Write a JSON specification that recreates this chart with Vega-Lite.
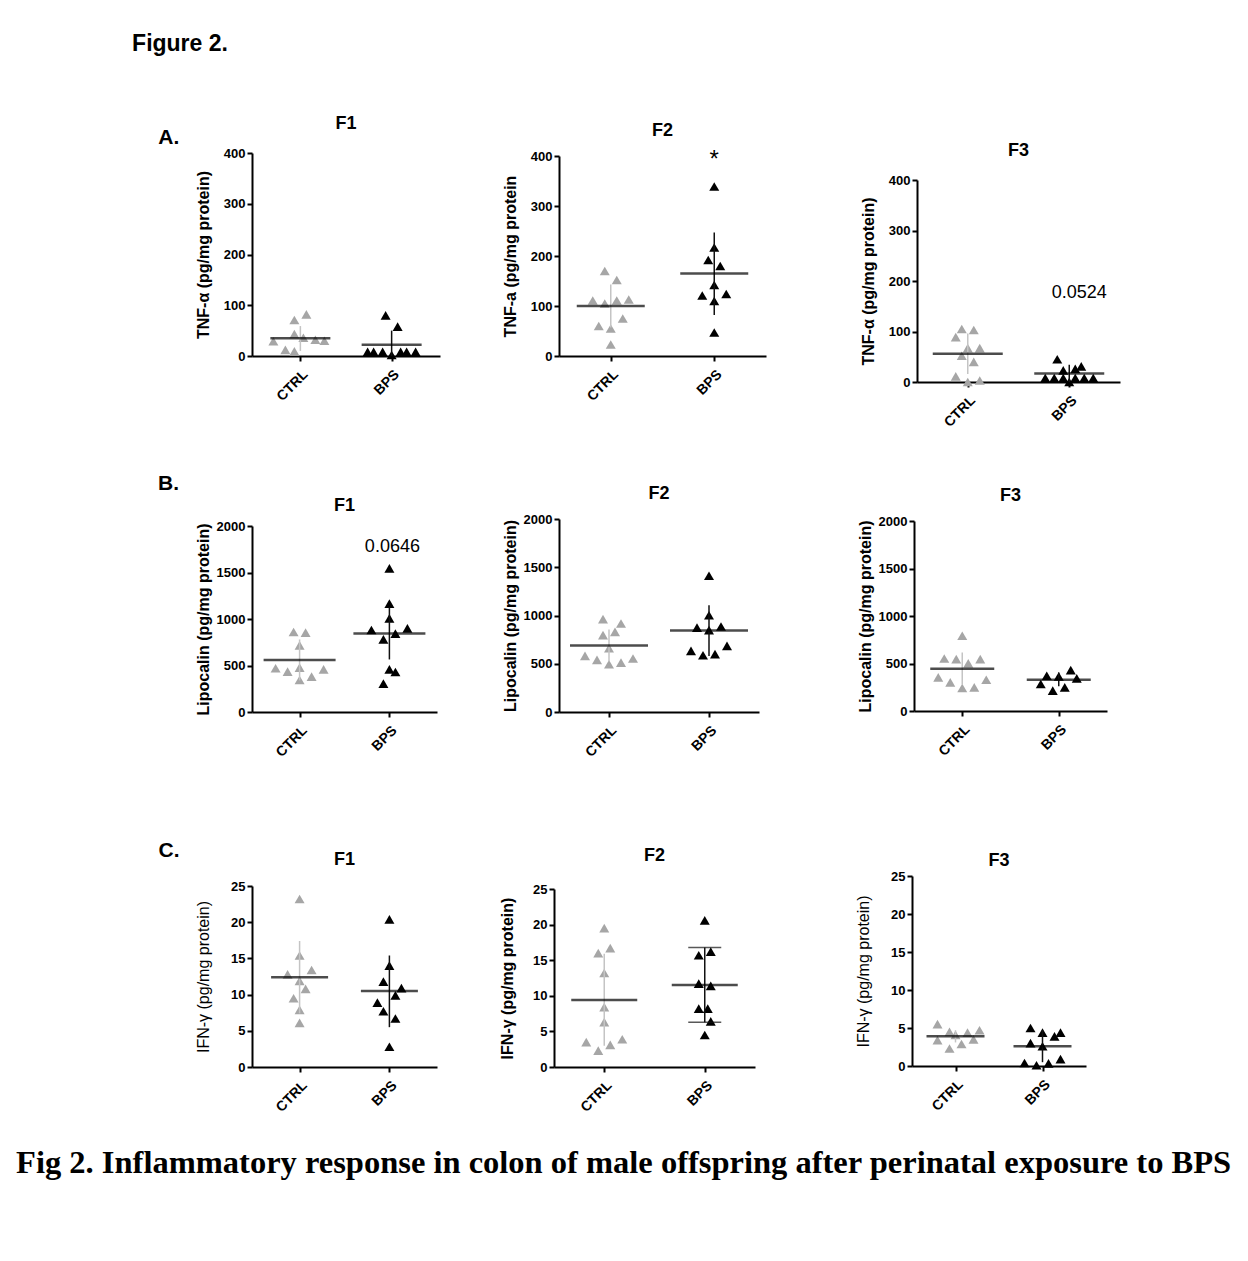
{
"$schema": "https://vega.github.io/schema/vega-lite/v6.json",
"background": "white",
"padding": {"left": 16, "top": 33, "right": 5, "bottom": 5},
"config": {
 "font": "Liberation Sans",
 "view": {"stroke": null},
 "axis": {"grid": false, "domainColor": "#000", "domainWidth": 2, "tickColor": "#000", "tickWidth": 2, "tickSize": 5, "labelColor": "#000", "labelFont": "Liberation Sans", "labelFontWeight": "bold", "labelFontSize": 13, "labelPadding": 2, "titleColor": "#000", "titleFont": "Liberation Sans", "titleFontWeight": "bold", "titleFontSize": 16},
 "axisY": {"format": "d"},
 "axisX": {"labelAngle": -45, "labelFontSize": 14, "labelPadding": 6},
 "title": {"font": "Liberation Sans", "fontSize": 18, "fontWeight": "bold", "color": "#000", "anchor": "middle", "offset": 20}
},
"datasets": {
 "pts": [
  {"p":"A1","g":"CTRL","v":82,"j":2},{"p":"A1","g":"CTRL","v":71,"j":-2},{"p":"A1","g":"CTRL","v":43,"j":-2},{"p":"A1","g":"CTRL","v":36,"j":1},{"p":"A1","g":"CTRL","v":32,"j":5},{"p":"A1","g":"CTRL","v":29,"j":-9},{"p":"A1","g":"CTRL","v":30,"j":8},{"p":"A1","g":"CTRL","v":12,"j":-5},{"p":"A1","g":"CTRL","v":9,"j":-2},
  {"p":"A1","g":"BPS","v":80,"j":-2},{"p":"A1","g":"BPS","v":58,"j":2},{"p":"A1","g":"BPS","v":8,"j":-8},{"p":"A1","g":"BPS","v":8,"j":-6},{"p":"A1","g":"BPS","v":8,"j":-3},{"p":"A1","g":"BPS","v":2,"j":0},{"p":"A1","g":"BPS","v":8,"j":3},{"p":"A1","g":"BPS","v":8,"j":5},{"p":"A1","g":"BPS","v":8,"j":8},
  {"p":"A2","g":"CTRL","v":170,"j":-2},{"p":"A2","g":"CTRL","v":152,"j":2},{"p":"A2","g":"CTRL","v":111,"j":-6},{"p":"A2","g":"CTRL","v":105,"j":-2},{"p":"A2","g":"CTRL","v":111,"j":2},{"p":"A2","g":"CTRL","v":113,"j":6},{"p":"A2","g":"CTRL","v":75,"j":4},{"p":"A2","g":"CTRL","v":60,"j":-4},{"p":"A2","g":"CTRL","v":55,"j":0},{"p":"A2","g":"CTRL","v":23,"j":0},
  {"p":"A2","g":"BPS","v":339,"j":0},{"p":"A2","g":"BPS","v":217,"j":0},{"p":"A2","g":"BPS","v":192,"j":-2},{"p":"A2","g":"BPS","v":180,"j":2},{"p":"A2","g":"BPS","v":142,"j":0},{"p":"A2","g":"BPS","v":121,"j":-4},{"p":"A2","g":"BPS","v":124,"j":4},{"p":"A2","g":"BPS","v":110,"j":0},{"p":"A2","g":"BPS","v":47,"j":0},
  {"p":"A3","g":"CTRL","v":105,"j":-2},{"p":"A3","g":"CTRL","v":103,"j":2},{"p":"A3","g":"CTRL","v":89,"j":-4},{"p":"A3","g":"CTRL","v":67,"j":0},{"p":"A3","g":"CTRL","v":67,"j":4},{"p":"A3","g":"CTRL","v":52,"j":-2},{"p":"A3","g":"CTRL","v":40,"j":2},{"p":"A3","g":"CTRL","v":11,"j":-4},{"p":"A3","g":"CTRL","v":3,"j":4},{"p":"A3","g":"CTRL","v":0,"j":0},
  {"p":"A3","g":"BPS","v":45,"j":-4},{"p":"A3","g":"BPS","v":23,"j":-2},{"p":"A3","g":"BPS","v":26,"j":2},{"p":"A3","g":"BPS","v":31,"j":4},{"p":"A3","g":"BPS","v":8,"j":-8},{"p":"A3","g":"BPS","v":8,"j":-5},{"p":"A3","g":"BPS","v":8,"j":-2},{"p":"A3","g":"BPS","v":8,"j":2},{"p":"A3","g":"BPS","v":8,"j":5},{"p":"A3","g":"BPS","v":8,"j":8},{"p":"A3","g":"BPS","v":0,"j":0},
  {"p":"B1","g":"CTRL","v":860,"j":-2},{"p":"B1","g":"CTRL","v":853,"j":2},{"p":"B1","g":"CTRL","v":717,"j":0},{"p":"B1","g":"CTRL","v":470,"j":-8},{"p":"B1","g":"CTRL","v":434,"j":-4},{"p":"B1","g":"CTRL","v":477,"j":0},{"p":"B1","g":"CTRL","v":459,"j":8},{"p":"B1","g":"CTRL","v":344,"j":0},{"p":"B1","g":"CTRL","v":380,"j":4},
  {"p":"B1","g":"BPS","v":1545,"j":0},{"p":"B1","g":"BPS","v":1165,"j":0},{"p":"B1","g":"BPS","v":1007,"j":0},{"p":"B1","g":"BPS","v":882,"j":-6},{"p":"B1","g":"BPS","v":900,"j":6},{"p":"B1","g":"BPS","v":842,"j":2},{"p":"B1","g":"BPS","v":781,"j":-2},{"p":"B1","g":"BPS","v":459,"j":0},{"p":"B1","g":"BPS","v":430,"j":2},{"p":"B1","g":"BPS","v":305,"j":-2},
  {"p":"B2","g":"CTRL","v":962,"j":-2},{"p":"B2","g":"CTRL","v":917,"j":4},{"p":"B2","g":"CTRL","v":796,"j":-2},{"p":"B2","g":"CTRL","v":830,"j":2},{"p":"B2","g":"CTRL","v":661,"j":0},{"p":"B2","g":"CTRL","v":581,"j":-8},{"p":"B2","g":"CTRL","v":540,"j":-4},{"p":"B2","g":"CTRL","v":554,"j":8},{"p":"B2","g":"CTRL","v":495,"j":0},{"p":"B2","g":"CTRL","v":512,"j":4},
  {"p":"B2","g":"BPS","v":1412,"j":0},{"p":"B2","g":"BPS","v":1003,"j":0},{"p":"B2","g":"BPS","v":875,"j":-4},{"p":"B2","g":"BPS","v":886,"j":4},{"p":"B2","g":"BPS","v":848,"j":0},{"p":"B2","g":"BPS","v":685,"j":6},{"p":"B2","g":"BPS","v":633,"j":-6},{"p":"B2","g":"BPS","v":588,"j":-2},{"p":"B2","g":"BPS","v":599,"j":2},
  {"p":"B3","g":"CTRL","v":792,"j":0},{"p":"B3","g":"CTRL","v":553,"j":-6},{"p":"B3","g":"CTRL","v":546,"j":-2},{"p":"B3","g":"CTRL","v":501,"j":2},{"p":"B3","g":"CTRL","v":546,"j":6},{"p":"B3","g":"CTRL","v":354,"j":-8},{"p":"B3","g":"CTRL","v":301,"j":-4},{"p":"B3","g":"CTRL","v":329,"j":8},{"p":"B3","g":"CTRL","v":242,"j":0},{"p":"B3","g":"CTRL","v":249,"j":4},
  {"p":"B3","g":"BPS","v":431,"j":4},{"p":"B3","g":"BPS","v":371,"j":-4},{"p":"B3","g":"BPS","v":364,"j":0},{"p":"B3","g":"BPS","v":343,"j":6},{"p":"B3","g":"BPS","v":284,"j":-6},{"p":"B3","g":"BPS","v":249,"j":2},{"p":"B3","g":"BPS","v":214,"j":-2},
  {"p":"C1","g":"CTRL","v":23.2,"j":0},{"p":"C1","g":"CTRL","v":15.4,"j":0},{"p":"C1","g":"CTRL","v":13.4,"j":4},{"p":"C1","g":"CTRL","v":12.8,"j":-4},{"p":"C1","g":"CTRL","v":11.9,"j":0},{"p":"C1","g":"CTRL","v":10.8,"j":2},{"p":"C1","g":"CTRL","v":9.5,"j":-2},{"p":"C1","g":"CTRL","v":7.9,"j":0},{"p":"C1","g":"CTRL","v":6.1,"j":0},
  {"p":"C1","g":"BPS","v":20.4,"j":0},{"p":"C1","g":"BPS","v":14.0,"j":0},{"p":"C1","g":"BPS","v":11.8,"j":-2},{"p":"C1","g":"BPS","v":10.9,"j":4},{"p":"C1","g":"BPS","v":9.9,"j":2},{"p":"C1","g":"BPS","v":8.9,"j":-4},{"p":"C1","g":"BPS","v":7.7,"j":-2},{"p":"C1","g":"BPS","v":6.7,"j":2},{"p":"C1","g":"BPS","v":2.8,"j":0},
  {"p":"C2","g":"CTRL","v":19.5,"j":0},{"p":"C2","g":"CTRL","v":16.0,"j":-2},{"p":"C2","g":"CTRL","v":16.7,"j":2},{"p":"C2","g":"CTRL","v":13.2,"j":0},{"p":"C2","g":"CTRL","v":8.4,"j":0},{"p":"C2","g":"CTRL","v":6.3,"j":0},{"p":"C2","g":"CTRL","v":3.5,"j":-6},{"p":"C2","g":"CTRL","v":3.9,"j":6},{"p":"C2","g":"CTRL","v":3.1,"j":2},{"p":"C2","g":"CTRL","v":2.3,"j":-2},
  {"p":"C2","g":"BPS","v":20.6,"j":0},{"p":"C2","g":"BPS","v":15.7,"j":-2},{"p":"C2","g":"BPS","v":16.2,"j":2},{"p":"C2","g":"BPS","v":11.7,"j":-2},{"p":"C2","g":"BPS","v":11.4,"j":2},{"p":"C2","g":"BPS","v":8.2,"j":-2},{"p":"C2","g":"BPS","v":8.2,"j":1},{"p":"C2","g":"BPS","v":6.4,"j":2},{"p":"C2","g":"BPS","v":4.5,"j":0},
  {"p":"C3","g":"CTRL","v":5.5,"j":-6},{"p":"C3","g":"CTRL","v":4.5,"j":-2},{"p":"C3","g":"CTRL","v":4.4,"j":4},{"p":"C3","g":"CTRL","v":4.7,"j":8},{"p":"C3","g":"CTRL","v":4.1,"j":0},{"p":"C3","g":"CTRL","v":3.4,"j":-6},{"p":"C3","g":"CTRL","v":3.5,"j":6},{"p":"C3","g":"CTRL","v":2.9,"j":2},{"p":"C3","g":"CTRL","v":2.3,"j":-2},
  {"p":"C3","g":"BPS","v":5.0,"j":-4},{"p":"C3","g":"BPS","v":4.4,"j":0},{"p":"C3","g":"BPS","v":3.9,"j":4},{"p":"C3","g":"BPS","v":4.4,"j":6},{"p":"C3","g":"BPS","v":3.0,"j":-4},{"p":"C3","g":"BPS","v":2.6,"j":0},{"p":"C3","g":"BPS","v":0.4,"j":-6},{"p":"C3","g":"BPS","v":0.1,"j":-2},{"p":"C3","g":"BPS","v":0.35,"j":2},{"p":"C3","g":"BPS","v":0.9,"j":6}
 ],
 "stats": [
  {"p":"A1","g":"CTRL","m":35,"lo":10,"hi":59},{"p":"A1","g":"BPS","m":22,"lo":0,"hi":50},
  {"p":"A2","g":"CTRL","m":100,"lo":57,"hi":143},{"p":"A2","g":"BPS","m":165,"lo":82,"hi":247},
  {"p":"A3","g":"CTRL","m":56,"lo":16,"hi":96},{"p":"A3","g":"BPS","m":17,"lo":0,"hi":34},
  {"p":"B1","g":"CTRL","m":560,"lo":340,"hi":780},{"p":"B1","g":"BPS","m":845,"lo":565,"hi":1125},
  {"p":"B2","g":"CTRL","m":690,"lo":525,"hi":855},{"p":"B2","g":"BPS","m":845,"lo":580,"hi":1105},
  {"p":"B3","g":"CTRL","m":445,"lo":280,"hi":615},{"p":"B3","g":"BPS","m":330,"lo":260,"hi":405},
  {"p":"C1","g":"CTRL","m":12.4,"lo":7.4,"hi":17.4},{"p":"C1","g":"BPS","m":10.5,"lo":5.5,"hi":15.4},
  {"p":"C2","g":"CTRL","m":9.4,"lo":3.0,"hi":15.9},{"p":"C2","g":"BPS","m":11.5,"lo":6.3,"hi":16.8},
  {"p":"C3","g":"CTRL","m":3.9,"lo":3.1,"hi":4.7},{"p":"C3","g":"BPS","m":2.6,"lo":0.5,"hi":4.7}
 ],
 "notes": [
  {"p":"A2","g":"BPS","v":392,"t":"*"},
  {"p":"A3","g":"BPS","v":176,"t":"0.0524"},
  {"p":"B1","g":"BPS","v":1774,"t":"0.0646"}
 ]
},
"title": {"text": "Fig 2. Inflammatory response in colon of male offspring after perinatal exposure to BPS", "orient": "bottom", "anchor": "start", "font": "Liberation Serif", "fontSize": 32.5, "fontWeight": "bold", "offset": 33, "dx": -116},
"vconcat": [
 {
  "title": {"text": "Figure 2.", "anchor": "start", "fontSize": 23, "fontWeight": "bold", "offset": 59, "dx": -26},
  "spacing": 43,
  "vconcat": [
   {
    "title": {"text": "A.", "anchor": "start", "fontSize": 21, "offset": 0, "dx": -37, "dy": 33},
    "spacing": 62,
    "hconcat": [
     {"spacing": 5, "vconcat": [
      {"width": 188, "height": 1, "title": {"text": "F1", "offset": 8}, "data": {"values": []}, "mark": {"type": "point"}, "encoding": {}},
      {
      "width": 188, "height": 203,
      "layer": [
       {"data": {"name": "pts"}, "transform": [{"filter": "datum.p == 'A1'"}], "mark": {"type": "point", "shape": "triangle-up", "filled": true, "size": 100, "opacity": 1},
        "encoding": {"x": {"field": "g", "type": "nominal", "scale": {"type": "point", "domain": ["CTRL", "BPS"], "padding": 0.53}, "axis": {"title": null}},
         "xOffset": {"field": "j", "type": "quantitative", "scale": {"domain": [-8, 8], "range": [-24, 24]}},
         "y": {"field": "v", "type": "quantitative", "scale": {"domain": [0, 400], "nice": false}, "axis": {"values": [0, 100, 200, 300, 400], "title": "TNF-α (pg/mg protein)", "titlePadding": 12}},
         "color": {"field": "g", "type": "nominal", "scale": {"domain": ["CTRL", "BPS"], "range": ["#a6a6a6", "#000000"]}, "legend": null}}},
       {"data": {"name": "stats"}, "transform": [{"filter": "datum.p == 'A1'"}], "mark": {"type": "rule", "strokeWidth": 1.5},
        "encoding": {"x": {"field": "g", "type": "nominal", "scale": {"type": "point", "domain": ["CTRL", "BPS"], "padding": 0.53}, "axis": {"title": null}},
         "y": {"field": "lo", "type": "quantitative", "scale": {"domain": [0, 400], "nice": false}, "axis": {"values": [0, 100, 200, 300, 400], "title": "TNF-α (pg/mg protein)", "titlePadding": 12}},
         "y2": {"field": "hi"},
         "stroke": {"field": "g", "type": "nominal", "scale": {"domain": ["CTRL", "BPS"], "range": ["#c4c4c4", "#111111"]}, "legend": null}}},
       {"data": {"name": "stats"}, "transform": [{"filter": "datum.p == 'A1'"}], "mark": {"type": "tick", "size": 60, "thickness": 2.5, "color": "#000"},
        "encoding": {"x": {"field": "g", "type": "nominal", "scale": {"type": "point", "domain": ["CTRL", "BPS"], "padding": 0.53}, "axis": {"title": null}},
         "y": {"field": "m", "type": "quantitative", "scale": {"domain": [0, 400], "nice": false}, "axis": {"values": [0, 100, 200, 300, 400], "title": "TNF-α (pg/mg protein)", "titlePadding": 12}}}}
      ]
      }
     ]},
     {
      "spacing": 94,
      "hconcat": [
       {"spacing": 6, "vconcat": [
        {"width": 207, "height": 1, "title": {"text": "F2", "offset": 1}, "data": {"values": []}, "mark": {"type": "point"}, "encoding": {}},
        {
        "width": 207, "height": 200,
        "layer": [
         {"data": {"name": "pts"}, "transform": [{"filter": "datum.p == 'A2'"}], "mark": {"type": "point", "shape": "triangle-up", "filled": true, "size": 100, "opacity": 1},
          "encoding": {"x": {"field": "g", "type": "nominal", "scale": {"type": "point", "domain": ["CTRL", "BPS"], "padding": 0.5}, "axis": {"title": null}},
           "xOffset": {"field": "j", "type": "quantitative", "scale": {"domain": [-8, 8], "range": [-24, 24]}},
           "y": {"field": "v", "type": "quantitative", "scale": {"domain": [0, 400], "nice": false}, "axis": {"values": [0, 100, 200, 300, 400], "title": "TNF-a (pg/mg protein", "titlePadding": 12}},
           "color": {"field": "g", "type": "nominal", "scale": {"domain": ["CTRL", "BPS"], "range": ["#a6a6a6", "#000000"]}, "legend": null}}},
         {"data": {"name": "stats"}, "transform": [{"filter": "datum.p == 'A2'"}], "mark": {"type": "rule", "strokeWidth": 1.5},
          "encoding": {"x": {"field": "g", "type": "nominal", "scale": {"type": "point", "domain": ["CTRL", "BPS"], "padding": 0.5}, "axis": {"title": null}},
           "y": {"field": "lo", "type": "quantitative", "scale": {"domain": [0, 400], "nice": false}, "axis": {"values": [0, 100, 200, 300, 400], "title": "TNF-a (pg/mg protein", "titlePadding": 12}},
           "y2": {"field": "hi"},
           "stroke": {"field": "g", "type": "nominal", "scale": {"domain": ["CTRL", "BPS"], "range": ["#c4c4c4", "#111111"]}, "legend": null}}},
         {"data": {"name": "stats"}, "transform": [{"filter": "datum.p == 'A2'"}], "mark": {"type": "tick", "size": 68, "thickness": 2.5, "color": "#000"},
          "encoding": {"x": {"field": "g", "type": "nominal", "scale": {"type": "point", "domain": ["CTRL", "BPS"], "padding": 0.5}, "axis": {"title": null}},
           "y": {"field": "m", "type": "quantitative", "scale": {"domain": [0, 400], "nice": false}, "axis": {"values": [0, 100, 200, 300, 400], "title": "TNF-a (pg/mg protein", "titlePadding": 12}}}},
         {"data": {"name": "notes"}, "transform": [{"filter": "datum.p == 'A2'"}], "mark": {"type": "text", "fontSize": 24, "font": "Liberation Sans", "baseline": "middle"},
          "encoding": {"x": {"field": "g", "type": "nominal", "scale": {"type": "point", "domain": ["CTRL", "BPS"], "padding": 0.5}, "axis": {"title": null}},
           "y": {"field": "v", "type": "quantitative", "scale": {"domain": [0, 400], "nice": false}, "axis": {"values": [0, 100, 200, 300, 400], "title": "TNF-a (pg/mg protein", "titlePadding": 12}},
           "text": {"field": "t"}}}
        ]
        }
       ]},
       {"spacing": 14, "vconcat": [
        {"width": 203, "height": 1, "title": {"text": "F3", "offset": -19}, "data": {"values": []}, "mark": {"type": "point"}, "encoding": {}},
        {
        "width": 203, "height": 202,
        "layer": [
         {"data": {"name": "pts"}, "transform": [{"filter": "datum.p == 'A3'"}], "mark": {"type": "point", "shape": "triangle-up", "filled": true, "size": 100, "opacity": 1},
          "encoding": {"x": {"field": "g", "type": "nominal", "scale": {"type": "point", "domain": ["CTRL", "BPS"], "padding": 0.5}, "axis": {"title": null}},
           "xOffset": {"field": "j", "type": "quantitative", "scale": {"domain": [-8, 8], "range": [-24, 24]}},
           "y": {"field": "v", "type": "quantitative", "scale": {"domain": [0, 400], "nice": false}, "axis": {"values": [0, 100, 200, 300, 400], "title": "TNF-α (pg/mg protein)", "titlePadding": 12}},
           "color": {"field": "g", "type": "nominal", "scale": {"domain": ["CTRL", "BPS"], "range": ["#a6a6a6", "#000000"]}, "legend": null}}},
         {"data": {"name": "stats"}, "transform": [{"filter": "datum.p == 'A3'"}], "mark": {"type": "rule", "strokeWidth": 1.5},
          "encoding": {"x": {"field": "g", "type": "nominal", "scale": {"type": "point", "domain": ["CTRL", "BPS"], "padding": 0.5}, "axis": {"title": null}},
           "y": {"field": "lo", "type": "quantitative", "scale": {"domain": [0, 400], "nice": false}, "axis": {"values": [0, 100, 200, 300, 400], "title": "TNF-α (pg/mg protein)", "titlePadding": 12}},
           "y2": {"field": "hi"},
           "stroke": {"field": "g", "type": "nominal", "scale": {"domain": ["CTRL", "BPS"], "range": ["#c4c4c4", "#111111"]}, "legend": null}}},
         {"data": {"name": "stats"}, "transform": [{"filter": "datum.p == 'A3'"}], "mark": {"type": "tick", "size": 70, "thickness": 2.5, "color": "#000"},
          "encoding": {"x": {"field": "g", "type": "nominal", "scale": {"type": "point", "domain": ["CTRL", "BPS"], "padding": 0.5}, "axis": {"title": null}},
           "y": {"field": "m", "type": "quantitative", "scale": {"domain": [0, 400], "nice": false}, "axis": {"values": [0, 100, 200, 300, 400], "title": "TNF-α (pg/mg protein)", "titlePadding": 12}}}},
         {"data": {"name": "notes"}, "transform": [{"filter": "datum.p == 'A3'"}], "mark": {"type": "text", "fontSize": 18, "font": "Liberation Sans", "dx": 10},
          "encoding": {"x": {"field": "g", "type": "nominal", "scale": {"type": "point", "domain": ["CTRL", "BPS"], "padding": 0.5}, "axis": {"title": null}},
           "y": {"field": "v", "type": "quantitative", "scale": {"domain": [0, 400], "nice": false}, "axis": {"values": [0, 100, 200, 300, 400], "title": "TNF-α (pg/mg protein)", "titlePadding": 12}},
           "text": {"field": "t"}}}
        ]
        }
       ]}
      ]
     }
    ]
   },
   {
    "spacing": 80,
    "vconcat": [
     {
      "title": {"text": "B.", "anchor": "start", "fontSize": 21, "offset": 0, "dx": -37, "dy": 9},
      "spacing": 65,
      "hconcat": [
       {"spacing": 5, "vconcat": [
        {"width": 185, "height": 1, "title": {"text": "F1", "offset": -4}, "data": {"values": []}, "mark": {"type": "point"}, "encoding": {}},
        {
        "width": 185, "height": 186,
        "layer": [
         {"data": {"name": "pts"}, "transform": [{"filter": "datum.p == 'B1'"}], "mark": {"type": "point", "shape": "triangle-up", "filled": true, "size": 100, "opacity": 1},
          "encoding": {"x": {"field": "g", "type": "nominal", "scale": {"type": "point", "domain": ["CTRL", "BPS"], "padding": 0.53}, "axis": {"title": null}},
           "xOffset": {"field": "j", "type": "quantitative", "scale": {"domain": [-8, 8], "range": [-24, 24]}},
           "y": {"field": "v", "type": "quantitative", "scale": {"domain": [0, 2000], "nice": false}, "axis": {"values": [0, 500, 1000, 1500, 2000], "title": "Lipocalin (pg/mg protein)", "titlePadding": 5}},
           "color": {"field": "g", "type": "nominal", "scale": {"domain": ["CTRL", "BPS"], "range": ["#a6a6a6", "#000000"]}, "legend": null}}},
         {"data": {"name": "stats"}, "transform": [{"filter": "datum.p == 'B1'"}], "mark": {"type": "rule", "strokeWidth": 1.5},
          "encoding": {"x": {"field": "g", "type": "nominal", "scale": {"type": "point", "domain": ["CTRL", "BPS"], "padding": 0.53}, "axis": {"title": null}},
           "y": {"field": "lo", "type": "quantitative", "scale": {"domain": [0, 2000], "nice": false}, "axis": {"values": [0, 500, 1000, 1500, 2000], "title": "Lipocalin (pg/mg protein)", "titlePadding": 5}},
           "y2": {"field": "hi"},
           "stroke": {"field": "g", "type": "nominal", "scale": {"domain": ["CTRL", "BPS"], "range": ["#c4c4c4", "#111111"]}, "legend": null}}},
         {"data": {"name": "stats"}, "transform": [{"filter": "datum.p == 'B1'"}], "mark": {"type": "tick", "size": 72, "thickness": 2.5, "color": "#000"},
          "encoding": {"x": {"field": "g", "type": "nominal", "scale": {"type": "point", "domain": ["CTRL", "BPS"], "padding": 0.53}, "axis": {"title": null}},
           "y": {"field": "m", "type": "quantitative", "scale": {"domain": [0, 2000], "nice": false}, "axis": {"values": [0, 500, 1000, 1500, 2000], "title": "Lipocalin (pg/mg protein)", "titlePadding": 5}}}},
         {"data": {"name": "notes"}, "transform": [{"filter": "datum.p == 'B1'"}], "mark": {"type": "text", "fontSize": 18, "font": "Liberation Sans", "dx": 3},
          "encoding": {"x": {"field": "g", "type": "nominal", "scale": {"type": "point", "domain": ["CTRL", "BPS"], "padding": 0.53}, "axis": {"title": null}},
           "y": {"field": "v", "type": "quantitative", "scale": {"domain": [0, 2000], "nice": false}, "axis": {"values": [0, 500, 1000, 1500, 2000], "title": "Lipocalin (pg/mg protein)", "titlePadding": 5}},
           "text": {"field": "t"}}}
        ]
        }
       ]},
       {
        "spacing": 98,
        "hconcat": [
         {"spacing": 1, "vconcat": [
          {"width": 200, "height": 1, "title": {"text": "F2", "offset": 8}, "data": {"values": []}, "mark": {"type": "point"}, "encoding": {}},
          {
          "width": 200, "height": 193,
          "layer": [
           {"data": {"name": "pts"}, "transform": [{"filter": "datum.p == 'B2'"}], "mark": {"type": "point", "shape": "triangle-up", "filled": true, "size": 100, "opacity": 1},
            "encoding": {"x": {"field": "g", "type": "nominal", "scale": {"type": "point", "domain": ["CTRL", "BPS"], "padding": 0.5}, "axis": {"title": null}},
             "xOffset": {"field": "j", "type": "quantitative", "scale": {"domain": [-8, 8], "range": [-24, 24]}},
             "y": {"field": "v", "type": "quantitative", "scale": {"domain": [0, 2000], "nice": false}, "axis": {"values": [0, 500, 1000, 1500, 2000], "title": "Lipocalin (pg/mg protein)", "titlePadding": 5}},
             "color": {"field": "g", "type": "nominal", "scale": {"domain": ["CTRL", "BPS"], "range": ["#a6a6a6", "#000000"]}, "legend": null}}},
           {"data": {"name": "stats"}, "transform": [{"filter": "datum.p == 'B2'"}], "mark": {"type": "rule", "strokeWidth": 1.5},
            "encoding": {"x": {"field": "g", "type": "nominal", "scale": {"type": "point", "domain": ["CTRL", "BPS"], "padding": 0.5}, "axis": {"title": null}},
             "y": {"field": "lo", "type": "quantitative", "scale": {"domain": [0, 2000], "nice": false}, "axis": {"values": [0, 500, 1000, 1500, 2000], "title": "Lipocalin (pg/mg protein)", "titlePadding": 5}},
             "y2": {"field": "hi"},
             "stroke": {"field": "g", "type": "nominal", "scale": {"domain": ["CTRL", "BPS"], "range": ["#c4c4c4", "#111111"]}, "legend": null}}},
           {"data": {"name": "stats"}, "transform": [{"filter": "datum.p == 'B2'"}], "mark": {"type": "tick", "size": 78, "thickness": 2.5, "color": "#000"},
            "encoding": {"x": {"field": "g", "type": "nominal", "scale": {"type": "point", "domain": ["CTRL", "BPS"], "padding": 0.5}, "axis": {"title": null}},
             "y": {"field": "m", "type": "quantitative", "scale": {"domain": [0, 2000], "nice": false}, "axis": {"values": [0, 500, 1000, 1500, 2000], "title": "Lipocalin (pg/mg protein)", "titlePadding": 5}}}}
          ]
          }
         ]},
         {"spacing": 3, "vconcat": [
          {"width": 193, "height": 1, "title": {"text": "F3", "offset": 6}, "data": {"values": []}, "mark": {"type": "point"}, "encoding": {}},
          {
          "width": 193, "height": 190,
          "layer": [
           {"data": {"name": "pts"}, "transform": [{"filter": "datum.p == 'B3'"}], "mark": {"type": "point", "shape": "triangle-up", "filled": true, "size": 100, "opacity": 1},
            "encoding": {"x": {"field": "g", "type": "nominal", "scale": {"type": "point", "domain": ["CTRL", "BPS"], "padding": 0.5}, "axis": {"title": null}},
             "xOffset": {"field": "j", "type": "quantitative", "scale": {"domain": [-8, 8], "range": [-24, 24]}},
             "y": {"field": "v", "type": "quantitative", "scale": {"domain": [0, 2000], "nice": false}, "axis": {"values": [0, 500, 1000, 1500, 2000], "title": "Lipocalin (pg/mg protein)", "titlePadding": 5}},
             "color": {"field": "g", "type": "nominal", "scale": {"domain": ["CTRL", "BPS"], "range": ["#a6a6a6", "#000000"]}, "legend": null}}},
           {"data": {"name": "stats"}, "transform": [{"filter": "datum.p == 'B3'"}], "mark": {"type": "rule", "strokeWidth": 1.5},
            "encoding": {"x": {"field": "g", "type": "nominal", "scale": {"type": "point", "domain": ["CTRL", "BPS"], "padding": 0.5}, "axis": {"title": null}},
             "y": {"field": "lo", "type": "quantitative", "scale": {"domain": [0, 2000], "nice": false}, "axis": {"values": [0, 500, 1000, 1500, 2000], "title": "Lipocalin (pg/mg protein)", "titlePadding": 5}},
             "y2": {"field": "hi"},
             "stroke": {"field": "g", "type": "nominal", "scale": {"domain": ["CTRL", "BPS"], "range": ["#c4c4c4", "#111111"]}, "legend": null}}},
           {"data": {"name": "stats"}, "transform": [{"filter": "datum.p == 'B3'"}], "mark": {"type": "tick", "size": 64, "thickness": 2.5, "color": "#000"},
            "encoding": {"x": {"field": "g", "type": "nominal", "scale": {"type": "point", "domain": ["CTRL", "BPS"], "padding": 0.5}, "axis": {"title": null}},
             "y": {"field": "m", "type": "quantitative", "scale": {"domain": [0, 2000], "nice": false}, "axis": {"values": [0, 500, 1000, 1500, 2000], "title": "Lipocalin (pg/mg protein)", "titlePadding": 5}}}}
          ]
          }
         ]}
        ]
       }
      ]
     },
     {
      "title": {"text": "C.", "anchor": "start", "fontSize": 21, "offset": 0, "dx": -37, "dy": 14},
      "spacing": 62,
      "hconcat": [
       {"spacing": 11, "vconcat": [
        {"width": 185, "height": 1, "title": {"text": "F1", "offset": -4}, "data": {"values": []}, "mark": {"type": "point"}, "encoding": {}},
        {
        "width": 185, "height": 181,
        "layer": [
         {"data": {"name": "pts"}, "transform": [{"filter": "datum.p == 'C1'"}], "mark": {"type": "point", "shape": "triangle-up", "filled": true, "size": 100, "opacity": 1},
          "encoding": {"x": {"field": "g", "type": "nominal", "scale": {"type": "point", "domain": ["CTRL", "BPS"], "padding": 0.53}, "axis": {"title": null}},
           "xOffset": {"field": "j", "type": "quantitative", "scale": {"domain": [-8, 8], "range": [-24, 24]}},
           "y": {"field": "v", "type": "quantitative", "scale": {"domain": [0, 25], "nice": false}, "axis": {"values": [0, 5, 10, 15, 20, 25], "title": "IFN-γ (pg/mg protein)", "titlePadding": 19, "titleFontWeight": "normal"}},
           "color": {"field": "g", "type": "nominal", "scale": {"domain": ["CTRL", "BPS"], "range": ["#a6a6a6", "#000000"]}, "legend": null}}},
         {"data": {"name": "stats"}, "transform": [{"filter": "datum.p == 'C1'"}], "mark": {"type": "rule", "strokeWidth": 1.5},
          "encoding": {"x": {"field": "g", "type": "nominal", "scale": {"type": "point", "domain": ["CTRL", "BPS"], "padding": 0.53}, "axis": {"title": null}},
           "y": {"field": "lo", "type": "quantitative", "scale": {"domain": [0, 25], "nice": false}, "axis": {"values": [0, 5, 10, 15, 20, 25], "title": "IFN-γ (pg/mg protein)", "titlePadding": 19, "titleFontWeight": "normal"}},
           "y2": {"field": "hi"},
           "stroke": {"field": "g", "type": "nominal", "scale": {"domain": ["CTRL", "BPS"], "range": ["#c4c4c4", "#555555"]}, "legend": null}}},
         {"data": {"name": "stats"}, "transform": [{"filter": "datum.p == 'C1'"}], "mark": {"type": "tick", "size": 57, "thickness": 2.5, "color": "#000"},
          "encoding": {"x": {"field": "g", "type": "nominal", "scale": {"type": "point", "domain": ["CTRL", "BPS"], "padding": 0.53}, "axis": {"title": null}},
           "y": {"field": "m", "type": "quantitative", "scale": {"domain": [0, 25], "nice": false}, "axis": {"values": [0, 5, 10, 15, 20, 25], "title": "IFN-γ (pg/mg protein)", "titlePadding": 19, "titleFontWeight": "normal"}}}}
        ]
        }
       ]},
       {
        "spacing": 100,
        "hconcat": [
         {"spacing": 17, "vconcat": [
          {"width": 201, "height": 1, "title": {"text": "F2", "offset": 0}, "data": {"values": []}, "mark": {"type": "point"}, "encoding": {}},
          {
          "width": 201, "height": 178,
          "layer": [
           {"data": {"name": "pts"}, "transform": [{"filter": "datum.p == 'C2'"}], "mark": {"type": "point", "shape": "triangle-up", "filled": true, "size": 100, "opacity": 1},
            "encoding": {"x": {"field": "g", "type": "nominal", "scale": {"type": "point", "domain": ["CTRL", "BPS"], "padding": 0.5}, "axis": {"title": null}},
             "xOffset": {"field": "j", "type": "quantitative", "scale": {"domain": [-8, 8], "range": [-24, 24]}},
             "y": {"field": "v", "type": "quantitative", "scale": {"domain": [0, 25], "nice": false}, "axis": {"values": [0, 5, 10, 15, 20, 25], "title": "IFN-γ (pg/mg protein)", "titlePadding": 17}},
             "color": {"field": "g", "type": "nominal", "scale": {"domain": ["CTRL", "BPS"], "range": ["#a6a6a6", "#000000"]}, "legend": null}}},
           {"data": {"name": "stats"}, "transform": [{"filter": "datum.p == 'C2'"}], "mark": {"type": "rule", "strokeWidth": 1.5},
            "encoding": {"x": {"field": "g", "type": "nominal", "scale": {"type": "point", "domain": ["CTRL", "BPS"], "padding": 0.5}, "axis": {"title": null}},
             "y": {"field": "lo", "type": "quantitative", "scale": {"domain": [0, 25], "nice": false}, "axis": {"values": [0, 5, 10, 15, 20, 25], "title": "IFN-γ (pg/mg protein)", "titlePadding": 17}},
             "y2": {"field": "hi"},
             "stroke": {"field": "g", "type": "nominal", "scale": {"domain": ["CTRL", "BPS"], "range": ["#c4c4c4", "#111111"]}, "legend": null}}},
           {"data": {"name": "stats"}, "transform": [{"filter": "datum.p == 'C2' && datum.g == 'BPS'"}], "mark": {"type": "tick", "size": 33, "thickness": 1.5, "color": "#111"},
            "encoding": {"x": {"field": "g", "type": "nominal", "scale": {"type": "point", "domain": ["CTRL", "BPS"], "padding": 0.5}, "axis": {"title": null}},
             "y": {"field": "lo", "type": "quantitative", "scale": {"domain": [0, 25], "nice": false}, "axis": {"values": [0, 5, 10, 15, 20, 25], "title": "IFN-γ (pg/mg protein)", "titlePadding": 17}}}},
           {"data": {"name": "stats"}, "transform": [{"filter": "datum.p == 'C2' && datum.g == 'BPS'"}], "mark": {"type": "tick", "size": 33, "thickness": 1.5, "color": "#111"},
            "encoding": {"x": {"field": "g", "type": "nominal", "scale": {"type": "point", "domain": ["CTRL", "BPS"], "padding": 0.5}, "axis": {"title": null}},
             "y": {"field": "hi", "type": "quantitative", "scale": {"domain": [0, 25], "nice": false}, "axis": {"values": [0, 5, 10, 15, 20, 25], "title": "IFN-γ (pg/mg protein)", "titlePadding": 17}}}},
           {"data": {"name": "stats"}, "transform": [{"filter": "datum.p == 'C2'"}], "mark": {"type": "tick", "size": 66, "thickness": 2.5, "color": "#000"},
            "encoding": {"x": {"field": "g", "type": "nominal", "scale": {"type": "point", "domain": ["CTRL", "BPS"], "padding": 0.5}, "axis": {"title": null}},
             "y": {"field": "m", "type": "quantitative", "scale": {"domain": [0, 25], "nice": false}, "axis": {"values": [0, 5, 10, 15, 20, 25], "title": "IFN-γ (pg/mg protein)", "titlePadding": 17}}}}
          ]
          }
         ]},
         {"spacing": 0, "vconcat": [
          {"width": 174, "height": 1, "title": {"text": "F3", "offset": -5}, "data": {"values": []}, "mark": {"type": "point"}, "encoding": {}},
          {
          "width": 174, "height": 190,
          "layer": [
           {"data": {"name": "pts"}, "transform": [{"filter": "datum.p == 'C3'"}], "mark": {"type": "point", "shape": "triangle-up", "filled": true, "size": 100, "opacity": 1},
            "encoding": {"x": {"field": "g", "type": "nominal", "scale": {"type": "point", "domain": ["CTRL", "BPS"], "padding": 0.5}, "axis": {"title": null}},
             "xOffset": {"field": "j", "type": "quantitative", "scale": {"domain": [-8, 8], "range": [-24, 24]}},
             "y": {"field": "v", "type": "quantitative", "scale": {"domain": [0, 25], "nice": false}, "axis": {"values": [0, 5, 10, 15, 20, 25], "title": "IFN-γ (pg/mg protein)", "titlePadding": 19, "titleFontWeight": "normal"}},
             "color": {"field": "g", "type": "nominal", "scale": {"domain": ["CTRL", "BPS"], "range": ["#a6a6a6", "#000000"]}, "legend": null}}},
           {"data": {"name": "stats"}, "transform": [{"filter": "datum.p == 'C3'"}], "mark": {"type": "rule", "strokeWidth": 1.5},
            "encoding": {"x": {"field": "g", "type": "nominal", "scale": {"type": "point", "domain": ["CTRL", "BPS"], "padding": 0.5}, "axis": {"title": null}},
             "y": {"field": "lo", "type": "quantitative", "scale": {"domain": [0, 25], "nice": false}, "axis": {"values": [0, 5, 10, 15, 20, 25], "title": "IFN-γ (pg/mg protein)", "titlePadding": 19, "titleFontWeight": "normal"}},
             "y2": {"field": "hi"},
             "stroke": {"field": "g", "type": "nominal", "scale": {"domain": ["CTRL", "BPS"], "range": ["#c4c4c4", "#111111"]}, "legend": null}}},
           {"data": {"name": "stats"}, "transform": [{"filter": "datum.p == 'C3'"}], "mark": {"type": "tick", "size": 58, "thickness": 2.5, "color": "#000"},
            "encoding": {"x": {"field": "g", "type": "nominal", "scale": {"type": "point", "domain": ["CTRL", "BPS"], "padding": 0.5}, "axis": {"title": null}},
             "y": {"field": "m", "type": "quantitative", "scale": {"domain": [0, 25], "nice": false}, "axis": {"values": [0, 5, 10, 15, 20, 25], "title": "IFN-γ (pg/mg protein)", "titlePadding": 19, "titleFontWeight": "normal"}}}}
          ]
          }
         ]}
        ]
       }
      ]
     }
    ]
   }
  ]
 }
]
}
